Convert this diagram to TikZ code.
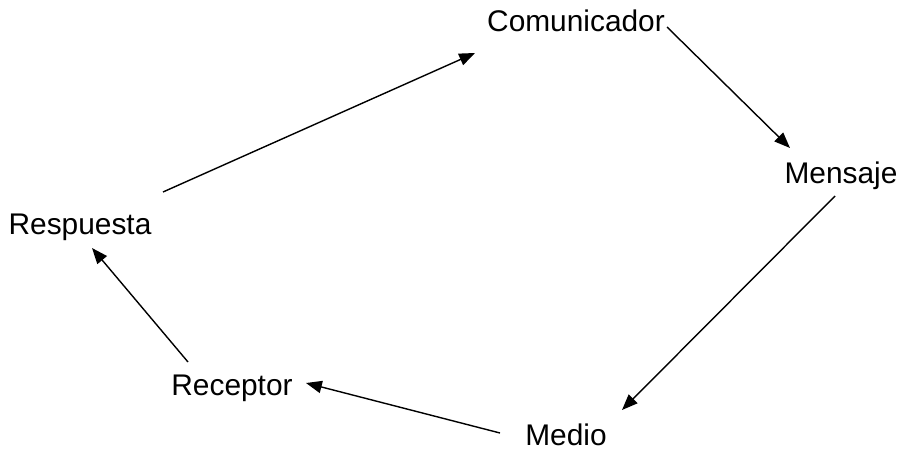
\documentclass[tikz,border=0pt]{standalone}
\usepackage{fontspec}
\setmainfont{Liberation Sans}
\usetikzlibrary{arrows.meta}
\begin{document}
\begin{tikzpicture}[x=0.02cm, y=-0.02cm,
    etapa/.style={inner sep=0pt, anchor=base, font=\fontsize{17}{20}\selectfont},
    flecha/.style={-{Triangle[length=9pt, width=7pt]}, line width=0.8pt}]
    \useasboundingbox (0,0) rectangle (898,449);

    % etapas del proceso
    \node[etapa] (com) at (576, 32) {Comunicador};
    \node[etapa] (mes) at (841, 183) {Mensaje};
    \node[etapa] (med) at (566, 445) {Medio};
    \node[etapa] (rec) at (232, 395) {Receptor};
    \node[etapa] (res) at (80, 234) {Respuesta};

    % ciclo
    \draw[flecha] ([shift={(83,-42)}]res.base) -- ([shift={(-101,21)}]com.base);
    \draw[flecha] ([shift={(91,-5)}]com.base) -- ([shift={(-51,-35)}]mes.base);
    \draw[flecha] ([shift={(-6,13)}]mes.base) -- ([shift={(56,-35)}]med.base);
    \draw[flecha] ([shift={(-66,-12)}]med.base) -- ([shift={(74,-12)}]rec.base);
    \draw[flecha] ([shift={(-44,-33)}]rec.base) -- ([shift={(12,14)}]res.base);
\end{tikzpicture}
\end{document}
